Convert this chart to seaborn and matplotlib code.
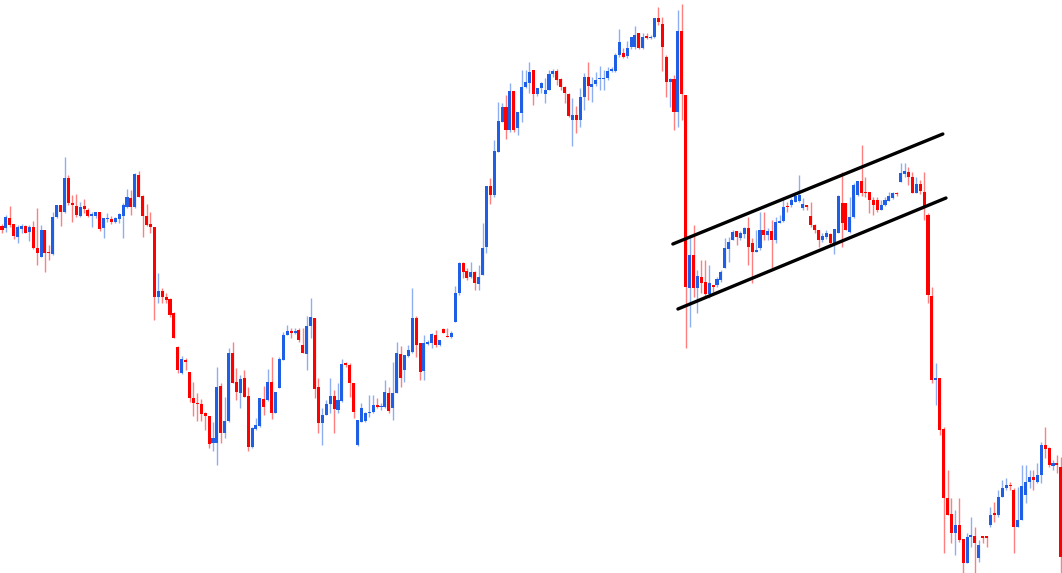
import numpy as np
import pandas as pd
import matplotlib
matplotlib.use("Agg")
import matplotlib.pyplot as plt
import seaborn as sns

sns.set_theme(style="white")

# OHLC values (arbitrary price units, one candle per bar)
opens = [374, 372, 382, 376, 363, 371, 374, 368, 373, 352, 343, 370, 348, 346, 383, 395, 388, 422, 397, 394,
         384, 394, 390, 384, 384, 388, 372, 381, 381, 378, 381, 384, 393, 402, 393, 425, 404, 384, 376, 373,
         303, 309, 303, 301, 287, 253, 227, 240, 228, 202, 197, 196, 187, 184, 157, 157, 214, 167, 179, 247,
         218, 207, 222, 204, 153, 171, 174, 201, 200, 218, 187, 212, 240, 265, 269, 267, 270, 255, 246, 274,
         282, 213, 177, 185, 196, 204, 190, 199, 237, 235, 217, 155, 178, 179, 187, 188, 195, 193, 193, 207,
         192, 207, 246, 230, 244, 248, 282, 257, 229, 256, 257, 265, 255, 271, 264, 263, 278, 307, 337, 329,
         323, 328, 316, 325, 353, 414, 405, 448, 478, 493, 470, 509, 472, 487, 513, 517, 530, 506, 512, 506,
         510, 526, 529, 521, 513, 506, 480, 485, 480, 503, 523, 513, 516, 521, 521, 522, 529, 529, 545, 547,
         544, 553, 553, 567, 552, 564, 562, 563, 582, 576, 543, 518, 521, 488, 569, 505, 312, 345, 312, 323,
         318, 306, 315, 315, 320, 332, 351, 360, 369, 362, 366, 372, 357, 348, 352, 370, 365, 369, 360, 377,
         379, 394, 395, 398, 399, 392, 395, 384, 375, 370, 360, 363, 366, 357, 367, 397, 397, 368, 383, 405,
         419, 408, 408, 400, 400, 390, 395, 399, 402, 407, 418, 426, 428, 423, 407, 416, 408, 385, 304, 220,
         222, 171, 102, 86, 67, 75, 61, 37, 63, 64, 42, 64, 64, 75, 87, 85, 103, 112, 115, 110,
         73, 80, 105, 118, 123, 118, 125, 155, 152, 134, 137, 133]
highs = [376, 385, 394, 376, 375, 376, 375, 375, 379, 392, 375, 370, 355, 388, 395, 395, 443, 425, 405, 406,
         398, 401, 392, 388, 388, 388, 382, 387, 384, 383, 387, 397, 411, 410, 427, 429, 405, 396, 388, 373,
         327, 312, 307, 302, 288, 254, 244, 242, 228, 218, 207, 201, 188, 184, 178, 233, 217, 203, 252, 258,
         232, 225, 230, 213, 173, 182, 202, 214, 231, 243, 208, 243, 268, 275, 272, 272, 272, 272, 284, 302,
         282, 222, 192, 200, 222, 210, 217, 241, 238, 237, 217, 180, 197, 188, 205, 205, 202, 197, 220, 213,
         238, 258, 254, 245, 255, 312, 284, 257, 265, 260, 267, 270, 260, 272, 272, 269, 314, 338, 338, 332,
         338, 329, 335, 377, 414, 422, 460, 498, 497, 505, 517, 509, 488, 530, 530, 538, 530, 512, 518, 522,
         530, 531, 531, 522, 514, 507, 502, 494, 512, 527, 538, 523, 528, 534, 530, 533, 533, 547, 571, 552,
         559, 563, 574, 567, 567, 567, 565, 582, 593, 583, 545, 522, 525, 590, 596, 505, 362, 375, 330, 340,
         340, 335, 315, 323, 330, 362, 363, 370, 369, 369, 373, 383, 362, 370, 388, 388, 372, 380, 383, 385,
         403, 398, 402, 405, 425, 402, 395, 398, 376, 370, 367, 370, 367, 371, 405, 428, 397, 403, 417, 419,
         455, 423, 408, 403, 403, 400, 403, 408, 408, 408, 437, 437, 433, 428, 423, 420, 428, 387, 313, 237,
         222, 173, 130, 102, 90, 102, 61, 67, 83, 73, 60, 64, 64, 93, 98, 110, 120, 122, 118, 112,
         113, 135, 135, 130, 130, 137, 158, 173, 153, 140, 145, 143]
lows = [367, 368, 373, 361, 357, 367, 367, 359, 351, 335, 343, 328, 340, 345, 382, 374, 387, 395, 378, 383,
        383, 387, 383, 373, 382, 369, 362, 378, 376, 377, 377, 362, 392, 385, 392, 403, 363, 374, 367, 280,
        297, 297, 297, 283, 262, 227, 226, 230, 198, 184, 179, 179, 170, 152, 149, 135, 157, 162, 178, 217,
        200, 192, 203, 149, 152, 170, 173, 185, 199, 181, 187, 212, 240, 265, 262, 266, 258, 247, 230, 262,
        202, 167, 155, 185, 187, 167, 187, 198, 233, 203, 182, 154, 178, 178, 183, 187, 192, 190, 192, 187,
        180, 207, 213, 218, 243, 247, 243, 220, 220, 255, 252, 253, 254, 267, 263, 262, 278, 305, 322, 320,
        322, 310, 310, 325, 347, 396, 403, 448, 478, 461, 468, 468, 465, 478, 512, 507, 495, 504, 507, 497,
        510, 523, 515, 510, 497, 483, 454, 467, 473, 490, 500, 498, 514, 510, 510, 520, 528, 528, 543, 542,
        542, 551, 551, 551, 551, 561, 561, 562, 575, 529, 503, 493, 470, 473, 480, 252, 273, 303, 287, 307,
        303, 302, 308, 313, 318, 332, 338, 360, 355, 360, 362, 335, 317, 348, 350, 360, 360, 332, 357, 377,
        378, 388, 393, 398, 398, 390, 390, 373, 367, 353, 358, 361, 355, 346, 367, 353, 370, 367, 382, 404,
        404, 403, 387, 385, 388, 390, 394, 399, 401, 404, 418, 423, 415, 407, 407, 406, 380, 297, 217, 195,
        165, 47, 85, 57, 45, 58, 27, 37, 53, 27, 38, 57, 53, 73, 78, 83, 103, 110, 110, 47,
        73, 80, 97, 112, 110, 117, 117, 142, 133, 130, 127, 27]
closes = [370, 383, 375, 364, 373, 374, 367, 373, 352, 347, 370, 347, 347, 383, 395, 388, 422, 397, 395, 385,
          393, 391, 384, 386, 388, 371, 382, 382, 378, 382, 386, 395, 403, 393, 426, 403, 384, 375, 373, 303,
          309, 303, 300, 285, 262, 230, 241, 238, 202, 197, 196, 186, 184, 156, 162, 213, 167, 179, 247, 217,
          208, 221, 203, 153, 172, 175, 202, 193, 218, 187, 208, 241, 265, 269, 267, 269, 260, 247, 274, 283,
          211, 177, 185, 196, 204, 191, 200, 236, 235, 217, 188, 180, 192, 187, 188, 195, 193, 194, 208, 189,
          207, 247, 222, 245, 250, 282, 255, 228, 257, 258, 266, 255, 260, 267, 263, 267, 307, 337, 328, 322,
          328, 317, 323, 352, 414, 405, 449, 479, 493, 470, 509, 470, 488, 513, 518, 528, 506, 512, 517, 510,
          526, 529, 520, 513, 507, 484, 485, 480, 503, 523, 514, 516, 520, 522, 522, 529, 531, 545, 558, 543,
          552, 563, 565, 552, 563, 562, 563, 582, 578, 553, 518, 521, 488, 569, 506, 313, 345, 312, 324, 317,
          306, 317, 313, 321, 328, 352, 358, 368, 363, 367, 372, 353, 348, 350, 370, 365, 369, 360, 378, 379,
          393, 393, 400, 404, 405, 396, 393, 375, 370, 360, 364, 367, 357, 371, 404, 377, 370, 383, 415, 419,
          407, 407, 400, 395, 390, 395, 400, 404, 407, 406, 427, 429, 423, 407, 416, 409, 392, 305, 220, 222,
          170, 102, 85, 67, 75, 60, 37, 63, 65, 57, 55, 62, 62, 85, 85, 103, 112, 115, 114, 73,
          80, 114, 118, 123, 120, 125, 155, 151, 135, 137, 135, 43]

# trend channel drawn over the consolidation (candle index, price)
upper_x = [171.7, 240.8]
upper_y = [356, 466]
lower_x = [173.0, 241.6]
lower_y = [291, 402]

df = pd.DataFrame({"open": opens, "high": highs, "low": lows, "close": closes})
df["idx"] = np.arange(len(df))
up = df["close"] >= df["open"]
colors = np.where(up, "#1f5fe6", "#ff0000")

fig = plt.figure(figsize=(10.62, 5.73), dpi=100)
ax = fig.add_axes([0, 0, 1, 1])

# wicks
ax.vlines(df["idx"], df["low"], df["high"], colors=colors, linewidth=1.0, alpha=0.5, zorder=1)

# bodies
bottoms = df[["open", "close"]].min(axis=1)
heights = (df["close"] - df["open"]).abs().clip(lower=1.5)
ax.bar(df["idx"], heights, bottom=bottoms, width=0.78, color=colors, linewidth=0, zorder=2)

# channel lines
sns.lineplot(x=upper_x, y=upper_y, color="black", linewidth=2.4, ax=ax, zorder=3)
sns.lineplot(x=lower_x, y=lower_y, color="black", linewidth=2.4, ax=ax, zorder=3)

ax.set_xlim(-0.51, 271.3)
ax.set_ylim(27, 600)
ax.axis("off")

fig.savefig("out.png", dpi=100, facecolor="white")
